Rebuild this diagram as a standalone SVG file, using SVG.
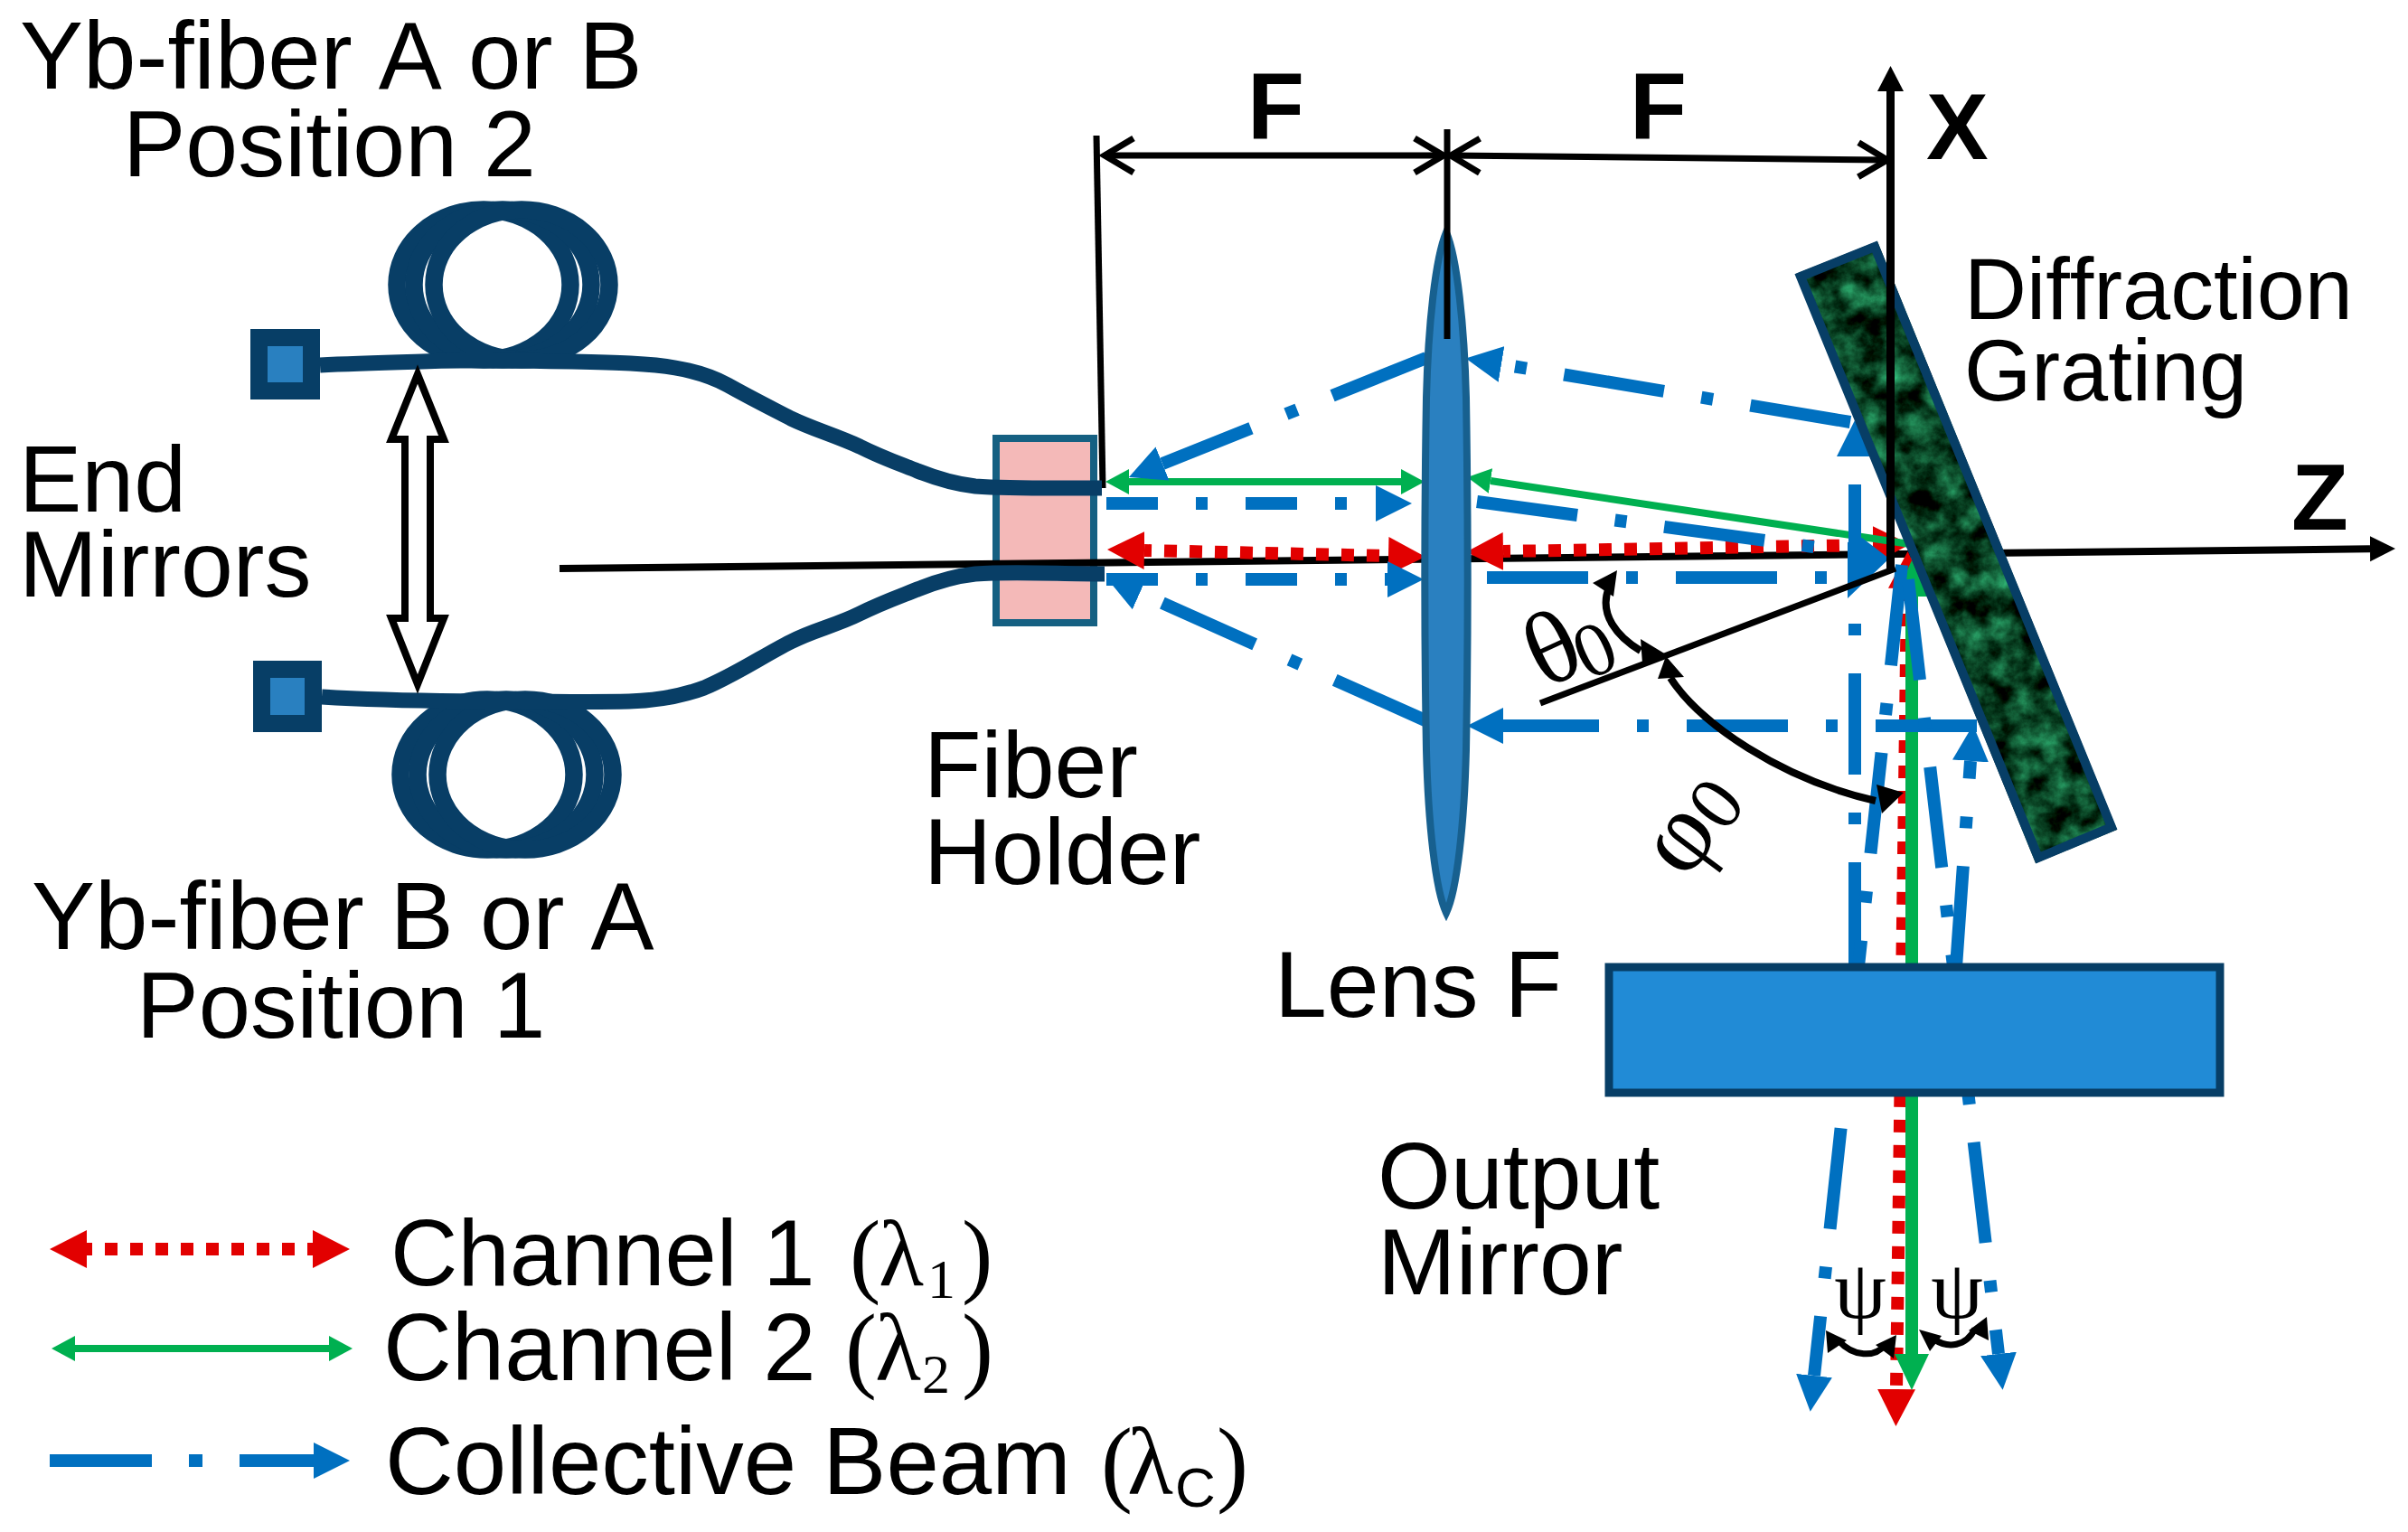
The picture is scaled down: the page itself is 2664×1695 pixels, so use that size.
<svg xmlns="http://www.w3.org/2000/svg" width="2664" height="1695" viewBox="0 0 2664 1695">
<style>
text{fill:#000;font-kerning:none}
.t{font-family:"Liberation Sans",Arial,sans-serif;font-size:104px}
.y{font-family:"Liberation Sans",Arial,sans-serif;font-size:105px}
.d{font-family:"Liberation Sans",Arial,sans-serif;font-size:95.500px}
.l{font-family:"Liberation Sans",Arial,sans-serif;font-size:103px}
.m{font-family:"Liberation Sans",Arial,sans-serif;font-size:105px}
.b{font-family:"Liberation Sans",Arial,sans-serif;font-size:103px;font-weight:700}
.s{font-family:"Liberation Serif","Times New Roman",serif}
.blue{fill:none;stroke:#0070C0;stroke-width:14}
.dd{stroke-dasharray:112 42 13 42}
.ds{stroke-dasharray:57 42 13 42}
.red{fill:none;stroke:#E20000;stroke-width:14;stroke-dasharray:14 14}
.green{fill:none;stroke:#00B050;stroke-width:8}
.fib{fill:none;stroke:#083E66;stroke-linecap:butt}
.coil{fill:none;stroke:#083E66;stroke-width:19.500}
.blk{fill:none;stroke:#000}
.em{fill:#2980C0;stroke:#073E66;stroke-width:19}
</style>
<defs>
<marker id="hb" markerUnits="userSpaceOnUse" markerWidth="42" markerHeight="42" refX="0" refY="21" orient="auto-start-reverse"><path d="M0,1L40,21L0,41z" fill="#0070C0"/></marker>
<marker id="hr" markerUnits="userSpaceOnUse" markerWidth="42" markerHeight="44" refX="0" refY="22" orient="auto-start-reverse"><path d="M0,1L41,22L0,43z" fill="#E20000"/></marker>
<marker id="hg" markerUnits="userSpaceOnUse" markerWidth="28" markerHeight="30" refX="0" refY="15" orient="auto-start-reverse"><path d="M0,1L26,15L0,29z" fill="#00B050"/></marker>
<marker id="hG" markerUnits="userSpaceOnUse" markerWidth="42" markerHeight="40" refX="0" refY="20" orient="auto-start-reverse"><path d="M0,1L40,20L0,39z" fill="#00B050"/></marker>
<marker id="hk" markerUnits="userSpaceOnUse" markerWidth="30" markerHeight="30" refX="0" refY="15" orient="auto"><path d="M0,1L28,15L0,29z" fill="#000"/></marker>
<marker id="ch" markerUnits="userSpaceOnUse" markerWidth="44" markerHeight="48" refX="38" refY="24" orient="auto-start-reverse"><path d="M6,5L38,24L6,43" fill="none" stroke="#000" stroke-width="7"/></marker>
<filter id="tex" x="0" y="0" width="1" height="1" color-interpolation-filters="sRGB">
<feTurbulence type="fractalNoise" baseFrequency="0.035" numOctaves="5" seed="11"/>
<feColorMatrix type="matrix" values="0.35 0 0 0 -0.14  1.05 0 0 0 -0.27  0.75 0 0 0 -0.24  0 0 0 0 1"/>
<feComposite in2="SourceAlpha" operator="in"/>
</filter>
</defs>

<g id="coil-top">
<ellipse class="coil" cx="535" cy="315" rx="96" ry="83"/>
<ellipse class="coil" cx="556" cy="315" rx="98" ry="83"/>
<ellipse class="coil" cx="577" cy="315" rx="97" ry="83"/>
</g>
<g id="coil-bottom">
<ellipse class="coil" cx="539" cy="857" rx="96" ry="83"/>
<ellipse class="coil" cx="560" cy="857" rx="98" ry="83"/>
<ellipse class="coil" cx="581" cy="857" rx="97" ry="83"/>
</g>
<g id="fiber-holder"><rect x="1102" y="485" width="108" height="204" fill="#F4B9B8" stroke="#156082" stroke-width="8"/>
<text class="t" x="1022" y="882">Fiber</text><text class="t" x="1022" y="978">Holder</text></g>

<g id="connectors">
<path class="blk" stroke-width="7" d="M1213,150L1220,540"/>
<path class="blk" stroke-width="8" d="M619,629L2622,607.3" marker-end="url(#hk)"/>
<path class="fib" stroke-width="17" d="M354,404C390,402 430,401 467,400C530,398 590,399 633,400C680,401 720,402 747,407C770,411 790,418 805,426C830,440 850,450 875,463C900,475 925,482 951,494C975,506 995,513 1015,521C1040,531 1060,536 1079,538C1120,541 1170,540 1219,540"/>
<path class="fib" stroke-width="17" d="M356,771C420,775 500,776 569,776C610,776 650,777 696,776C730,775 755,770 779,761C815,746 845,725 875,710C900,697 925,692 951,679C975,667 995,660 1015,652C1040,642 1060,637 1079,635C1120,632 1170,635 1222,635"/>
<path fill="#fff" stroke="#000" stroke-width="8" d="M462,414L491,486H476V684H491L462,757L433,684H448V486H433Z"/>
<path class="blk" stroke-width="7" d="M1222,172L1597,172" marker-start="url(#ch)" marker-end="url(#ch)"/>
<path class="blk" stroke-width="7" d="M1605,172L2088,177" marker-start="url(#ch)" marker-end="url(#ch)"/>

<path class="red" d="M1266,609L1536,615" stroke-dashoffset="6" marker-start="url(#hr)" marker-end="url(#hr)"/>
<path class="red" d="M1663,610L2072,603" stroke-dashoffset="6" marker-start="url(#hr)" marker-end="url(#hr)"/>
<path class="red" d="M2110,651L2098,1537" marker-start="url(#hr)" marker-end="url(#hr)"/>
<path class="green" d="M1249,533H1550" marker-start="url(#hg)" marker-end="url(#hg)"/>
<path class="green" d="M1649,532L2113,602" marker-start="url(#hg)"/>
<path class="green" style="stroke-width:14px" d="M2115,660V1498" marker-start="url(#hG)" marker-end="url(#hG)"/>

<path class="blue ds" d="M1224,557H1522" marker-end="url(#hb)"/>
<path class="blue ds" d="M1224,641H1535" marker-end="url(#hb)"/>
<path class="blue dd" d="M1578,396L1286,513" marker-end="url(#hb)"/>
<path class="blue dd" d="M2047,467L1661,403" marker-end="url(#hb)"/>
<path class="blue dd" d="M1634,555L2050,611"/>
<path class="blue dd" d="M1645,639H2044"/>
<path fill="#0070C0" d="M2060,595L2090,618L2044,662V600Z"/>
<path class="blue dd" d="M2052,1066V505" marker-end="url(#hb)"/>
<path class="blue dd" d="M2164,1070L2180,842" marker-end="url(#hb)"/>
<path class="blue dd" d="M2187,803H1663" marker-end="url(#hb)"/>
<path class="blue dd" d="M1579,798L1261,656" stroke-dasharray="112 42 13 42 102 100" marker-end="url(#hb)"/>
<path class="blue dd" d="M2104,625L2007,1522" marker-end="url(#hb)"/>
<path class="blue dd" d="M2111,641L2211,1498" marker-end="url(#hb)"/>

<path class="blk" stroke-width="8" d="M1815,720C1790,705 1768,680 1780,650"/>
<path d="M1789,631L1762,645L1785,660ZM1843,724L1815,707L1817,734Z"/>
<path class="blk" stroke-width="8" d="M1848,750C1880,800 1970,862 2075,886"/>
<path d="M1843,726L1834,751L1863,749ZM2106,877L2082,900L2076,868Z"/>
<path class="blk" stroke-width="7" d="M2033,1482C2050,1502 2075,1502 2085,1488M2140,1482C2155,1492 2175,1490 2185,1470"/>
<path d="M2020,1472L2022,1497L2043,1483ZM2098,1477L2095,1503L2075,1488ZM2123,1471L2135,1495L2148,1478ZM2198,1457L2200,1483L2178,1472Z"/>
</g>

<g id="lens">
<path fill="#2A80C0" stroke="#17608F" stroke-width="8" d="M1600,257C1612,285 1620,360 1622,440C1624,560 1624,720 1622,830C1620,910 1612,985 1600,1010C1588,985 1580,910 1578,830C1576,720 1576,560 1578,440C1580,360 1588,285 1600,257Z"/>
<text class="t" x="1410" y="1125">Lens F</text>
</g>
<g id="output-mirror">
<rect x="1780" y="1070" width="676" height="139" fill="#218BD6" stroke="#073E66" stroke-width="9"/>
<text class="t" x="1524" y="1337">Output</text><text class="t" x="1524" y="1432">Mirror</text>
</g>
<g id="grating">
<path fill="#0a5a35" filter="url(#tex)" d="M1987,303L2077,267L2342,918L2252,955Z"/>
<path fill="none" stroke="#073E66" stroke-width="10" d="M1992,306L2074,273L2336,915L2255,949Z"/>
<text class="d" x="2173" y="353">Diffraction</text><text class="d" x="2173" y="443">Grating</text>
</g>
<g id="axes">
<path class="blk" stroke-width="9" d="M2091.5,630V101"/>
<path fill="#000" d="M2091.5,73L2106,101H2077Z"/>
<path class="blk" stroke-width="7" d="M1704,778L2097,629"/>
<path class="blk" stroke-width="7" d="M1601,143V375"/>
<text class="b" x="1380" y="153">F</text><text class="b" x="1803" y="153">F</text>
<text class="b" x="2131" y="176">X</text><text class="b" x="2535" y="586">Z</text>
</g>
<g id="angle-labels">
<text class="s" font-size="115" transform="translate(1708,763) rotate(-25)">θ<tspan font-size="85" dx="-7" dy="12">0</tspan></text>
<text class="s" font-size="115" transform="translate(1865,975) rotate(-53)">φ<tspan font-size="85" dx="1" dy="3">0</tspan></text>
<text class="s" font-size="92" x="2058" y="1458" text-anchor="middle">ψ</text>
<text class="s" font-size="92" x="2165" y="1458" text-anchor="middle">ψ</text>
</g>
<g id="end-mirror-top"><rect x="286.500" y="373.500" width="58" height="59" class="em"/></g>
<g id="end-mirror-bottom"><rect x="289.500" y="740.500" width="57" height="60" class="em"/></g>
<g id="labels">
<text class="y" x="22" y="98">Yb-fiber A or B</text>
<text class="t" x="136" y="195">Position 2</text>
<text class="t" x="21" y="566">End</text>
<text class="t" x="21" y="660">Mirrors</text>
<text class="y" x="35" y="1050">Yb-fiber B or A</text>
<text class="l" x="151" y="1148">Position 1</text>
</g>
<g id="legend">
<path class="red" d="M96,1382H346" stroke-dashoffset="8" marker-start="url(#hr)" marker-end="url(#hr)"/>
<path class="green" d="M83,1492H364" marker-start="url(#hg)" marker-end="url(#hg)"/>
<path class="blue" d="M55,1616H347" stroke-dasharray="113 41 15 41" marker-end="url(#hb)"/>
<text class="l" x="432" y="1422">Channel 1 <tspan class="s" x="940">(</tspan><tspan class="s" x="972">λ</tspan><tspan class="s" x="1026" font-size="62" dy="14">1</tspan><tspan class="s" x="1064" dy="-14">)</tspan></text>
<text class="m" x="424" y="1527">Channel 2 <tspan class="s" x="935">(</tspan><tspan class="s" x="968">λ</tspan><tspan class="s" x="1020" font-size="62" dy="14">2</tspan><tspan class="s" x="1064" dy="-14">)</tspan></text>
<text class="m" x="426" y="1653">Collective Beam <tspan class="s" x="1218">(</tspan><tspan class="s" x="1247">λ</tspan><tspan x="1300" font-size="62" dy="14">C</tspan><tspan class="s" x="1346" dy="-14">)</tspan></text>
</g>
</svg>
